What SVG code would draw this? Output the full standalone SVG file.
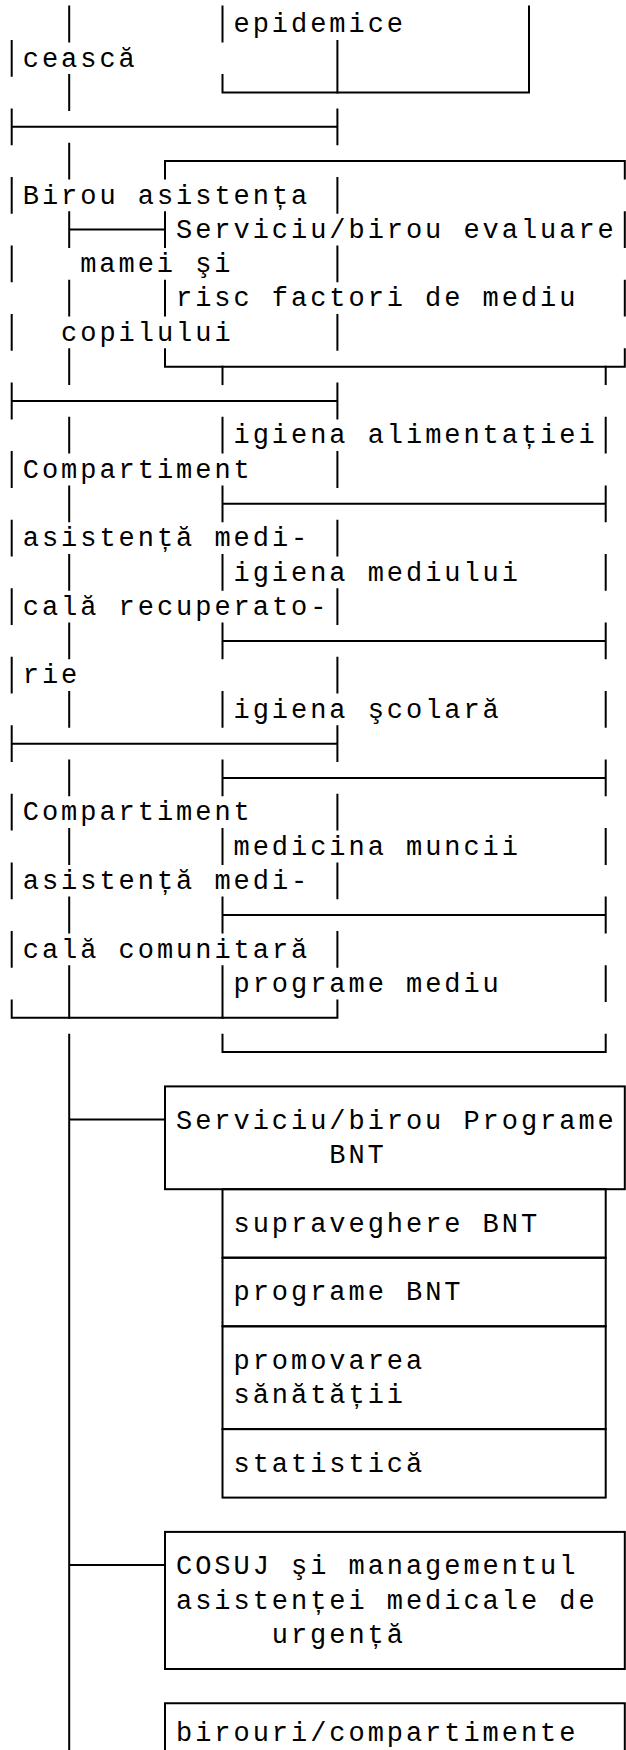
<svg xmlns="http://www.w3.org/2000/svg" width="626" height="1750" viewBox="0 0 626 1750">
<style>
.ln{stroke:#000;stroke-width:2;fill:none;stroke-linecap:square}
.t{font-family:"Liberation Mono","DejaVu Sans Mono",monospace;font-size:27px;letter-spacing:2.96px;fill:#000}
</style>
<rect width="626" height="1750" fill="#fff"/>
<g id="n-epidemice">
<path class="ln" d="M222.5,6.6V41.4M222.5,75.1V92.5H529V6.6"/>
<text class="t" x="233.5" y="32.2">epidemice</text>
</g>
<g id="n-ceasca">
<path class="ln" d="M11.7,40.9V75.7M337.4,40.9V92.5"/>
<text class="t" x="22.8" y="66.5">cească</text>
</g>
<g id="n-birou-mamei">
<path class="ln" d="M11.7,126.8H337.4M11.7,109.4V144.2M11.7,178V212.8M11.7,246.5V281.3M11.7,315V349.8M337.4,109.4V144.2M337.4,178V212.8M337.4,246.5V281.3M337.4,315V349.8"/>
<text class="t" x="22.8" y="203.6">Birou asistența</text>
<text class="t" x="80.2" y="272.1">mamei şi</text>
<text class="t" x="61.1" y="340.6">copilului</text>
</g>
<g id="n-evaluare">
<path class="ln" d="M165,178.5V161.1H624.8V178.5M165,212.2V247M165,280.8V315.6M165,349.3V366.7H624.8V349.3M624.8,212.2V247M624.8,280.8V315.6"/>
<text class="t" x="176" y="237.8">Serviciu/birou evaluare</text>
<text class="t" x="176" y="306.4">risc factori de mediu</text>
</g>
<g id="n-recuperatorie">
<path class="ln" d="M11.7,401H337.4M11.7,383.6V418.4M11.7,452.1V486.9M11.7,520.7V555.5M11.7,589.2V624M11.7,657.7V692.5M337.4,383.6V418.4M337.4,452.1V486.9M337.4,520.7V555.5M337.4,589.2V624M337.4,657.7V692.5"/>
<text class="t" x="22.8" y="477.7">Compartiment</text>
<text class="t" x="22.8" y="546.3">asistență medi-</text>
<text class="t" x="22.8" y="614.8">cală recuperato-</text>
<text class="t" x="22.8" y="683.3">rie</text>
</g>
<g id="n-comunitara">
<path class="ln" d="M11.7,743.7H337.4M11.7,726.3V761.1M11.7,794.8V829.6M11.7,863.4V898.2M11.7,931.9V966.7M11.7,1000.4V1017.8H337.4V1000.4M337.4,726.3V761.1M337.4,794.8V829.6M337.4,863.4V898.2M337.4,931.9V966.7"/>
<text class="t" x="22.8" y="820.4">Compartiment</text>
<text class="t" x="22.8" y="888.9">asistență medi-</text>
<text class="t" x="22.8" y="957.5">cală comunitară</text>
</g>
<g id="n-igiena-alimentatiei">
<path class="ln" d="M605.7,366.7V384.1M222.5,417.8V452.6M605.7,417.8V452.6"/>
<text class="t" x="233.5" y="443.4">igiena alimentației</text>
</g>
<g id="n-igiena-mediului">
<path class="ln" d="M222.5,503.8H605.7M222.5,486.4V521.2M605.7,486.4V521.2M222.5,554.9V589.7M605.7,554.9V589.7"/>
<text class="t" x="233.5" y="580.5">igiena mediului</text>
</g>
<g id="n-igiena-scolara">
<path class="ln" d="M222.5,640.9H605.7M222.5,623.5V658.3M605.7,623.5V658.3M222.5,692V726.8M605.7,692V726.8"/>
<text class="t" x="233.5" y="717.6">igiena şcolară</text>
</g>
<g id="n-medicina-muncii">
<path class="ln" d="M222.5,777.9H605.7M222.5,760.5V795.3M605.7,760.5V795.3M222.5,829.1V863.9M605.7,829.1V863.9"/>
<text class="t" x="233.5" y="854.7">medicina muncii</text>
</g>
<g id="n-programe-mediu">
<path class="ln" d="M222.5,915H605.7M222.5,897.6V932.4M605.7,897.6V932.4M222.5,966.2V1017.8M605.7,966.2V1000.9M222.5,1034.7V1052.1H605.7V1034.7"/>
<text class="t" x="233.5" y="991.8">programe mediu</text>
</g>
<g id="n-programe-bnt">
<rect class="ln" x="165" y="1086.4" width="459.8" height="102.8"/>
<text class="t" x="176" y="1128.8">Serviciu/birou Programe</text>
<text class="t" x="329.3" y="1163.1">BNT</text>
</g>
<g id="n-supraveghere-bnt">
<rect class="ln" x="222.5" y="1189.2" width="383.2" height="68.5"/>
<text class="t" x="233.5" y="1231.7">supraveghere BNT</text>
</g>
<g id="n-programe-bnt-sub">
<rect class="ln" x="222.5" y="1257.7" width="383.2" height="68.6"/>
<text class="t" x="233.5" y="1300.2">programe BNT</text>
</g>
<g id="n-promovarea">
<rect class="ln" x="222.5" y="1326.3" width="383.2" height="102.8"/>
<text class="t" x="233.5" y="1368.7">promovarea</text>
<text class="t" x="233.5" y="1403">sănătății</text>
</g>
<g id="n-statistica">
<rect class="ln" x="222.5" y="1429.1" width="383.2" height="68.5"/>
<text class="t" x="233.5" y="1471.5">statistică</text>
</g>
<g id="n-cosuj">
<rect class="ln" x="165" y="1531.9" width="459.8" height="137.1"/>
<text class="t" x="176" y="1574.4">COSUJ şi managementul</text>
<text class="t" x="176" y="1608.6">asistenței medicale de</text>
<text class="t" x="271.8" y="1642.9">urgență</text>
</g>
<g id="n-birouri">
<path class="ln" d="M165,1760V1703.2H624.8V1760"/>
<text class="t" x="176" y="1741">birouri/compartimente</text>
</g>
<g id="connectors">
<path class="ln" d="M69.2,6.6V41.4M69.2,75.1V109.9M69.2,143.7V178.5M69.2,212.2V247M69.2,229.6H165M69.2,280.8V315.6M69.2,349.3V384.1M69.2,417.8V452.6M69.2,486.4V521.2M69.2,554.9V589.7M69.2,623.5V658.3M69.2,692V726.8M69.2,760.5V795.3M69.2,829.1V863.9M69.2,897.6V932.4M69.2,966.2V1017.8"/>
<path class="ln" d="M222.5,366.7V384.1"/>
<path class="ln" d="M69.2,1034.7V1760M69.2,1119.5H165M69.2,1565H165"/>
</g>
</svg>
